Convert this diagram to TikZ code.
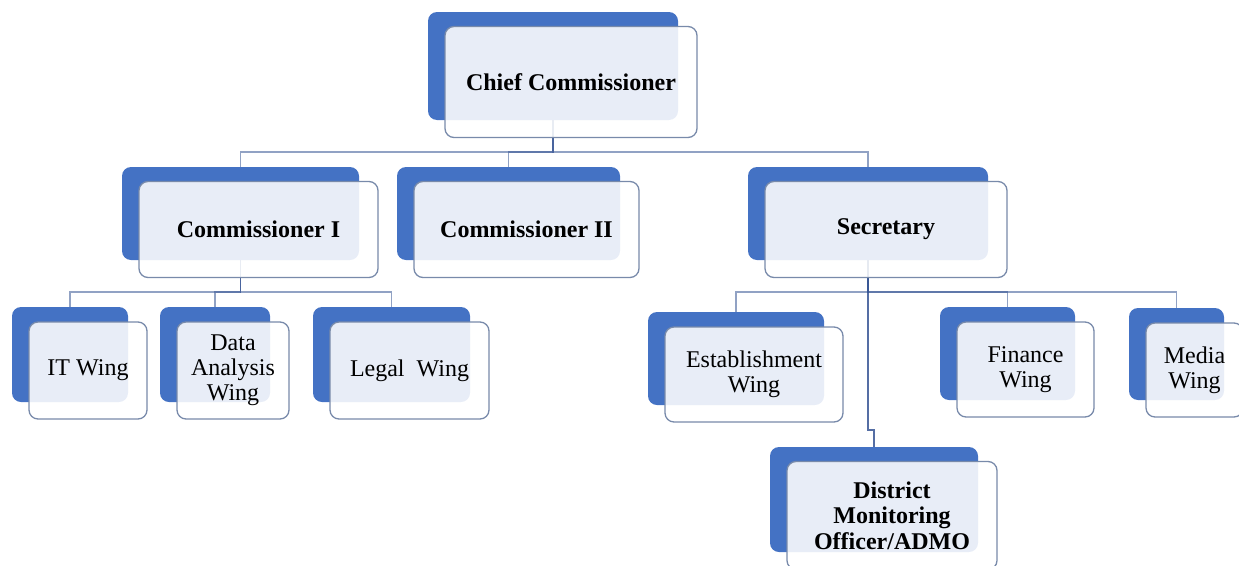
\documentclass[tikz,border=0pt]{standalone}
\usepackage{fontspec}
\setmainfont{Liberation Serif}
\usetikzlibrary{calc,backgrounds}
\definecolor{backblue}{RGB}{68,114,196}
\definecolor{edgegray}{RGB}{120,138,170}
\definecolor{linkblue}{RGB}{55,85,148}
\tikzstyle{backbox}=[rectangle,rounded corners=9pt,fill=backblue,inner sep=0pt]
\tikzstyle{frontbox}=[rectangle,rounded corners=9pt,fill=white,fill opacity=0.88,text opacity=1,draw=edgegray,line width=1.3pt,inner sep=0pt,align=center]
\tikzstyle{boldtext}=[font=\fontsize{24}{25.5}\selectfont\bfseries]
\tikzstyle{plaintext}=[font=\fontsize{24}{25}\selectfont]
\tikzstyle{link}=[draw=linkblue,draw opacity=0.55,line width=1.5pt]

\begin{document}
\begin{tikzpicture}[x=1pt,y=-1pt]
   \useasboundingbox (0,0) rectangle (1239,565);

    % upper levels, bold
    \foreach \x/\y/\name/\w/\h/\label in {553/66/chief/250/108/Chief Commissioner,
        240.5/213.5/comI/237/93/Commissioner I, 508.5/213.5/comII/223/93/Commissioner II,
        868/213.5/sec/240/93/Secretary, 874/499.5/dmo/208/105/{District\\Monitoring\\Officer/ADMO}}
    {
        \node[backbox,minimum width=\w pt,minimum height=\h pt] (\name) at (\x,\y) {};
        \node[frontbox,boldtext,minimum width=\w pt+2pt,minimum height=\h pt+3pt] (\name f) at ($(\name)+(18,16)$) {\label};
    }

    % wings
    \foreach \x/\y/\name/\w/\h/\label in {70/354.5/it/116/95/IT Wing, 215/354.5/data/110/95/Data\\Analysis\\Wing,
        391.5/354.5/legal/157/95/Legal\ \ Wing, 736/358.5/est/176/93/Establishment\\Wing,
        1007.5/353.5/fin/135/93/Finance\\Wing, 1176.5/354/media/95/92/Media\\Wing}
    {
        \node[backbox,minimum width=\w pt,minimum height=\h pt] (\name) at (\x,\y) {};
        \node[frontbox,plaintext,minimum width=\w pt+2pt,minimum height=\h pt+2pt] (\name f) at ($(\name)+(18,16)$) {\label};
    }

    \begin{scope}[on background layer]
    \foreach \kid in {comI,comII,sec}
        \draw[link] (chief.south) -- ++(0,32) -| (\kid.north);
    \foreach \kid in {it,data,legal}
        \draw[link] (comI.south) -- ++(0,32) -| (\kid.north);
    \foreach \kid in {est,fin,media}
        \draw[link] (sec.south) -- ++(0,32) -| (\kid.north);
    \draw[link,draw opacity=0.85] (sec.south) -- ++(0,170) -| (dmo.north);
    \end{scope}
\end{tikzpicture}
\end{document}
